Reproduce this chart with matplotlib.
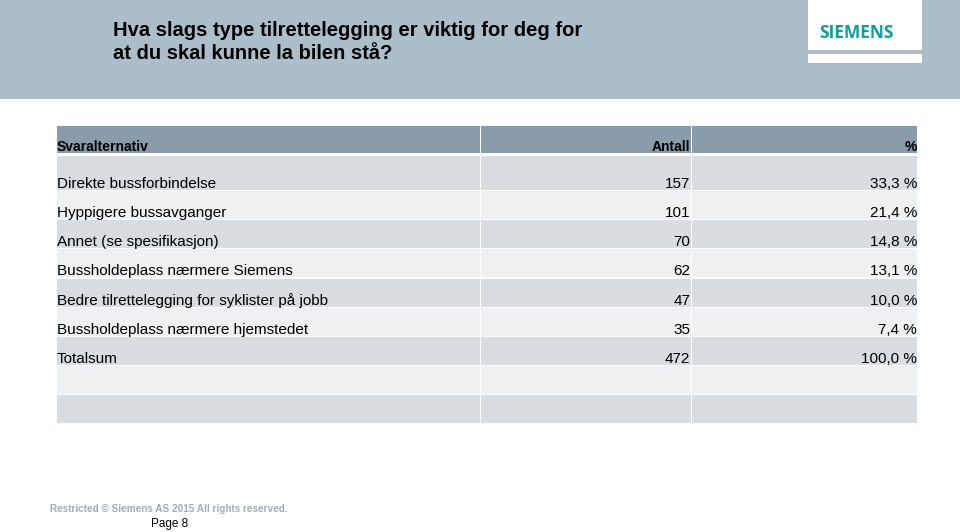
import matplotlib
matplotlib.use("Agg")
import matplotlib.pyplot as plt
from matplotlib.patches import Rectangle

# table content
columns = ["Svaralternativ", "Antall", "%"]
answers = ["Direkte bussforbindelse", "Hyppigere bussavganger", "Annet (se spesifikasjon)",
           "Bussholdeplass nærmere Siemens", "Bedre tilrettelegging for syklister på jobb",
           "Bussholdeplass nærmere hjemstedet", "Totalsum", "", ""]
counts = ["157", "101", "70", "62", "47", "35", "472", "", ""]
percents = ["33,3 %", "21,4 %", "14,8 %", "13,1 %", "10,0 %", "7,4 %", "100,0 %", "", ""]

title = "Hva slags type tilrettelegging er viktig for deg for\nat du skal kunne la bilen stå?"
footer = "Restricted © Siemens AS 2015 All rights reserved."
page = "Page 8"

plt.rcParams['font.family'] = ['Liberation Sans', 'DejaVu Sans']

fig = plt.figure(figsize=(9.6, 5.32), dpi=100)
ax = fig.add_axes([0, 0, 1, 1])
ax.set_xlim(0, 960)
ax.set_ylim(532, 0)
ax.axis('off')

# top band + logo box
ax.add_patch(Rectangle((0, 0), 960, 99, color='#adbecb', lw=0))
ax.add_patch(Rectangle((808, 0), 114, 50, color='white', lw=0))
ax.add_patch(Rectangle((808, 54), 114, 9, color='white', lw=0))
ax.text(857, 33, "SIEMENS", color='#129b99', fontsize=12.5, weight='bold',
        ha='center', va='center', family=['Open Sans', 'DejaVu Sans'])
ax.text(113, 42, title, fontsize=14.5, weight='bold', ha='left', va='center',
        linespacing=1.3)

# table geometry
x_edges = [57, 480, 691, 917]
head_top, head_bot = 126, 153
row_tops = [156, 191] + [191 + 29.2 * i for i in range(1, len(answers) - 1)]
row_h = [34, 28] + [28] * (len(answers) - 2)

for j in range(3):
    ax.add_patch(Rectangle((x_edges[j] + (1 if j else 0), head_top),
                           x_edges[j + 1] - x_edges[j] - (1 if j else 0),
                           head_bot - head_top, color='#8a9cab', lw=0))
hy = head_bot + 1
ax.text(x_edges[0], hy, columns[0], fontsize=10, weight='bold', ha='left', va='bottom')
ax.text(x_edges[2] - 1, hy, columns[1], fontsize=10, weight='bold', ha='right', va='bottom')
ax.text(x_edges[3], hy, columns[2], fontsize=10, weight='bold', ha='right', va='bottom')

for i, (a, c, p) in enumerate(zip(answers, counts, percents)):
    top = row_tops[i]
    h = row_h[i]
    col = '#d9dde1' if i % 2 == 0 else '#eef0f2'
    for j in range(3):
        ax.add_patch(Rectangle((x_edges[j] + (1 if j else 0), top),
                               x_edges[j + 1] - x_edges[j] - (1 if j else 0), h,
                               color=col, lw=0))
    yb = top + h + 1
    ax.text(x_edges[0], yb, a, fontsize=11, ha='left', va='bottom')
    ax.text(x_edges[2] - 1, yb, c, fontsize=11, ha='right', va='bottom')
    ax.text(x_edges[3], yb, p, fontsize=11, ha='right', va='bottom')

ax.text(50, 509, footer, fontsize=7.2, weight='bold', color='#a3abb4', ha='left', va='center')
ax.text(151, 524, page, fontsize=8.5, color='black', ha='left', va='center')

fig.savefig("out.png", dpi=100)
